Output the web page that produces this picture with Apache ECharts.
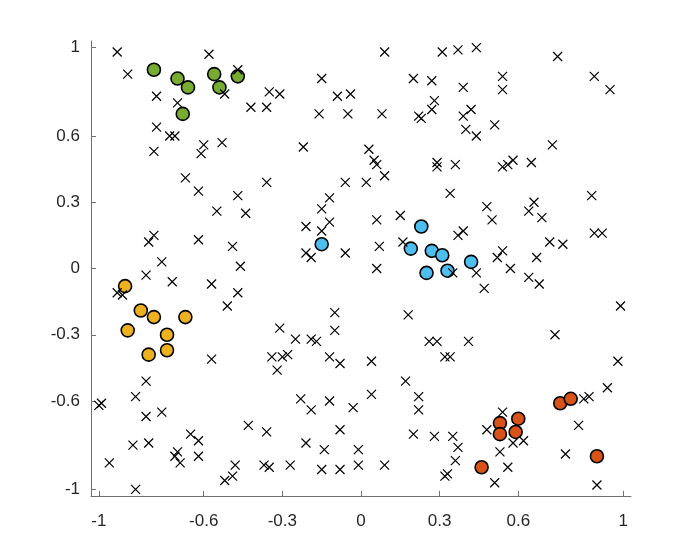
<!DOCTYPE html>
<html>
<head>
<meta charset="utf-8">
<script src="https://cdn.jsdelivr.net/npm/echarts@6/dist/echarts.min.js"></script>
<style>
    html, body { margin: 0; padding: 0; background: #fff; }
    #chart { width: 698px; height: 558px; }
</style>
</head>
<body>
<div id="chart"></div>
<script>
// tick positions shown on both axes
var tickValues = [-1, -0.6, -0.3, 0, 0.3, 0.6, 1]

// black x markers (unclustered points)
var crossPoints = [
    [-0.93, 0.98], [-0.58, 0.97], [-0.89, 0.88], [-0.78, 0.78], [-0.70, 0.75], [-0.78, 0.64],
    [-0.73, 0.60], [-0.71, 0.60], [-0.79, 0.53], [-0.60, 0.56], [-0.61, 0.52], [-0.53, 0.57],
    [-0.67, 0.41], [-0.62, 0.35], [-0.52, 0.79], [-0.47, 0.90], [-0.35, 0.80], [-0.31, 0.79],
    [-0.42, 0.73], [-0.36, 0.73], [-0.15, 0.86], [-0.09, 0.78], [-0.04, 0.79], [-0.16, 0.70],
    [-0.05, 0.70], [-0.22, 0.55], [-0.36, 0.39], [-0.06, 0.39], [0.02, 0.39], [0.09, 0.98],
    [0.31, 0.98], [0.37, 0.99], [0.44, 1.00], [0.20, 0.86], [0.27, 0.85], [0.39, 0.82],
    [0.54, 0.87], [0.54, 0.81], [0.28, 0.76], [0.27, 0.72], [0.22, 0.69], [0.23, 0.68],
    [0.08, 0.70], [0.42, 0.72], [0.39, 0.69], [0.40, 0.63], [0.44, 0.60], [0.51, 0.65],
    [0.03, 0.54], [0.05, 0.49], [0.06, 0.47], [0.09, 0.42], [0.29, 0.48], [0.29, 0.46],
    [0.36, 0.47], [0.54, 0.46], [0.56, 0.47], [0.58, 0.49], [0.34, 0.34], [0.75, 0.96],
    [0.89, 0.87], [0.95, 0.81], [0.73, 0.56], [0.65, 0.48], [-0.55, 0.26], [-0.81, 0.12],
    [-0.79, 0.15], [-0.62, 0.13], [-0.76, 0.03], [-0.82, -0.03], [-0.72, -0.06], [-0.57, -0.07],
    [-0.93, -0.11], [-0.91, -0.12], [-0.51, -0.17], [-0.47, 0.33], [-0.44, 0.25], [-0.12, 0.32],
    [-0.15, 0.27], [-0.21, 0.19], [-0.12, 0.21], [-0.15, 0.17], [-0.49, 0.10], [-0.21, 0.07],
    [-0.19, 0.05], [-0.06, 0.07], [-0.46, 0.01], [-0.47, -0.11], [-0.10, -0.20], [-0.10, -0.28],
    [-0.31, -0.27], [-0.25, -0.32], [-0.19, -0.32], [-0.17, -0.33], [-0.34, -0.40], [-0.30, -0.40],
    [-0.28, -0.39], [-0.32, -0.46], [-0.12, -0.40], [-0.08, -0.43], [-0.23, -0.59], [-0.19, -0.64],
    [-0.12, -0.60], [-0.03, -0.63], [-0.43, -0.71], [-0.36, -0.74], [-0.08, -0.73], [-0.21, -0.79],
    [-0.14, -0.82], [-0.01, -0.82], [-0.48, -0.89], [-0.49, -0.94], [-0.52, -0.96], [-0.37, -0.89],
    [-0.35, -0.90], [-0.27, -0.89], [-0.15, -0.91], [-0.08, -0.91], [-0.01, -0.89], [-0.57, -0.41],
    [-0.82, -0.51], [-0.86, -0.58], [-1.00, -0.62], [-0.99, -0.61], [-0.82, -0.67], [-0.76, -0.65],
    [-0.65, -0.75], [-0.62, -0.78], [-0.87, -0.80], [-0.81, -0.79], [-0.70, -0.83], [-0.71, -0.85],
    [-0.69, -0.88], [-0.62, -0.85], [-0.96, -0.88], [-0.86, -1.00], [0.48, 0.28], [0.50, 0.22],
    [0.06, 0.22], [0.15, 0.24], [0.37, 0.15], [0.39, 0.17], [0.16, 0.12], [0.07, 0.10],
    [0.06, 0.00], [0.52, 0.05], [0.54, 0.08], [0.35, -0.02], [0.44, -0.02], [0.47, -0.09],
    [0.18, -0.21], [0.26, -0.33], [0.29, -0.33], [0.41, -0.33], [0.32, -0.40], [0.34, -0.40],
    [0.04, -0.42], [0.17, -0.51], [0.04, -0.57], [0.22, -0.58], [0.22, -0.64], [0.20, -0.75],
    [0.28, -0.76], [0.35, -0.76], [0.37, -0.81], [0.36, -0.87], [0.32, -0.94], [0.33, -0.93],
    [0.09, -0.89], [0.48, -0.73], [0.53, -0.83], [0.51, -0.97], [0.98, -0.42], [0.94, -0.54],
    [0.85, -0.59], [0.87, -0.58], [0.54, -0.65], [0.83, -0.71], [0.58, -0.79], [0.62, -0.78],
    [0.78, -0.84], [0.56, -0.90], [0.90, -0.98], [0.88, 0.33], [0.66, 0.30], [0.64, 0.26],
    [0.69, 0.23], [0.89, 0.16], [0.92, 0.16], [0.72, 0.12], [0.77, 0.11], [0.67, 0.05],
    [0.57, 0.00], [0.64, -0.04], [0.68, -0.07], [0.99, -0.17], [0.74, -0.30]
]

// clusters (filled circles)
var greenPoints = [[-0.79, 0.90], [-0.70, 0.86], [-0.66, 0.82], [-0.56, 0.88], [-0.54, 0.82], [-0.68, 0.70], [-0.47, 0.87]]
var yellowPoints = [[-0.90, -0.08], [-0.84, -0.19], [-0.79, -0.22], [-0.67, -0.22], [-0.89, -0.28], [-0.74, -0.30], [-0.74, -0.37], [-0.81, -0.39]]
var bluePoints = [[-0.15, 0.11], [0.23, 0.19], [0.19, 0.09], [0.27, 0.08], [0.31, 0.06], [0.42, 0.03], [0.25, -0.02], [0.33, -0.01]]
var orangePoints = [[0.46, -0.90], [0.53, -0.70], [0.53, -0.75], [0.60, -0.68], [0.59, -0.74], [0.76, -0.61], [0.80, -0.59], [0.90, -0.85]]

var clusterColors = ['#77AC30', '#EDB120', '#4DBEEE', '#D95319']

var myEcharts = echarts.init(document.getElementById('chart'))

//坐标轴公共样式
function makeAxis() {
    return {
        type: 'value',
        min: -1.03,
        max: 1.03,
        axisLine: { show: true, onZero: false, lineStyle: { color: '#707070', width: 1 } },
        axisTick: {
            show: true,
            inside: true,
            length: 5,
            customValues: tickValues,
            lineStyle: { color: '#707070' }
        },
        axisLabel: {
            customValues: tickValues,
            color: '#262626',
            fontSize: 17,
            fontFamily: 'Liberation Sans'
        },
        splitLine: { show: false }
    }
}

var xAxis = makeAxis()
xAxis.axisLabel.margin = 17
var yAxis = makeAxis()
yAxis.axisLabel.margin = 11

function clusterSeries(points, color) {
    return {
        type: 'scatter',
        data: points,
        symbol: 'circle',
        symbolSize: 13,
        itemStyle: { color: color, borderColor: '#000', borderWidth: 1.6, opacity: 1 },
        silent: true
    }
}

myEcharts.setOption({
    animation: false,
    //布局
    grid: { left: 91, right: 67, top: 41, bottom: 62 },
    xAxis: xAxis,
    yAxis: yAxis,
    series: [
        clusterSeries(greenPoints, clusterColors[0]),
        clusterSeries(yellowPoints, clusterColors[1]),
        clusterSeries(bluePoints, clusterColors[2]),
        clusterSeries(orangePoints, clusterColors[3]),
        {
            type: 'scatter',
            data: crossPoints,
            symbol: 'path://M0,0L10,10M10,0L0,10',
            symbolSize: 9,
            itemStyle: { color: 'none', borderColor: '#000', borderWidth: 1.2, opacity: 1 },
            silent: true
        }
    ]
})
</script>
</body>
</html>
